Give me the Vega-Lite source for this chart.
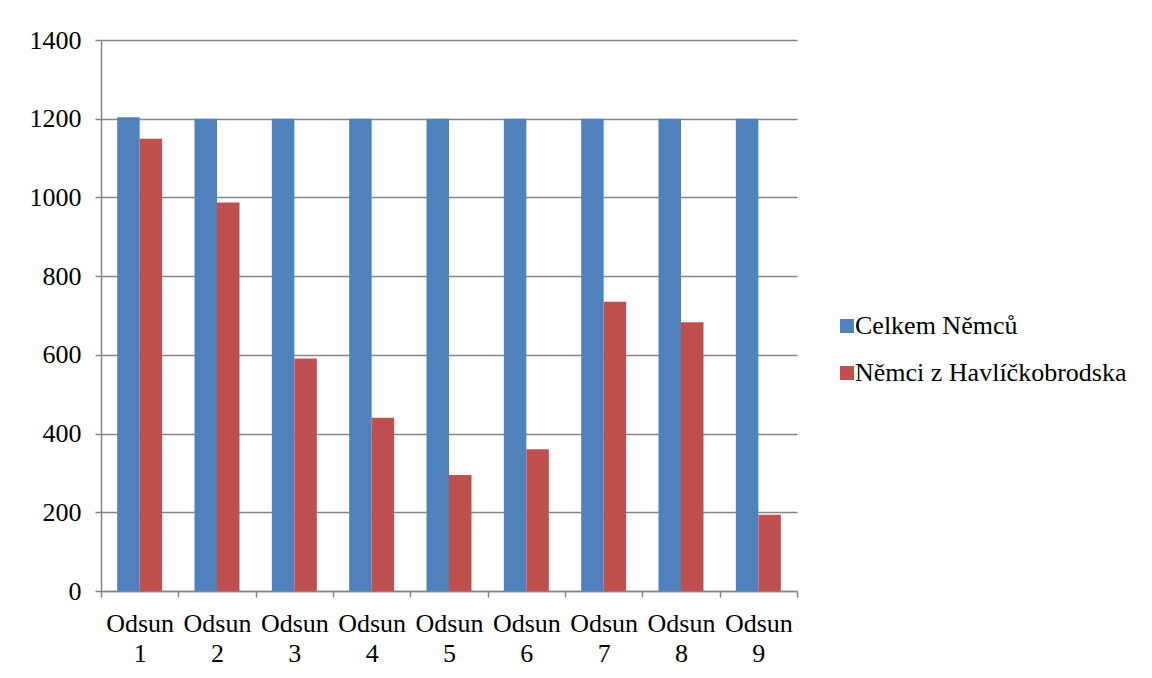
{
  "$schema": "https://vega.github.io/schema/vega-lite/v6.json",
  "width": 696,
  "height": 551,
  "autosize": "none",
  "padding": {"left": 101, "top": 40, "right": 355, "bottom": 87},
  "background": "white",
  "config": {
    "view": {"stroke": null},
    "font": "Liberation Serif",
    "axis": {
      "labelFont": "Liberation Serif",
      "labelFontSize": 26,
      "labelColor": "black",
      "domainColor": "#868686",
      "tickColor": "#868686",
      "gridColor": "#868686",
      "domainWidth": 1.5,
      "tickWidth": 1.5,
      "gridWidth": 1.5,
      "tickSize": 6,
      "title": null
    },
    "legend": {
      "labelFont": "Liberation Serif",
      "labelFontSize": 26,
      "labelColor": "black"
    }
  },
  "data": {
    "values": [
      {"odsun": "Odsun 1", "serie": "Celkem Němců", "pocet": 1204},
      {"odsun": "Odsun 1", "serie": "Němci z Havlíčkobrodska", "pocet": 1149},
      {"odsun": "Odsun 2", "serie": "Celkem Němců", "pocet": 1200},
      {"odsun": "Odsun 2", "serie": "Němci z Havlíčkobrodska", "pocet": 987},
      {"odsun": "Odsun 3", "serie": "Celkem Němců", "pocet": 1200},
      {"odsun": "Odsun 3", "serie": "Němci z Havlíčkobrodska", "pocet": 591},
      {"odsun": "Odsun 4", "serie": "Celkem Němců", "pocet": 1200},
      {"odsun": "Odsun 4", "serie": "Němci z Havlíčkobrodska", "pocet": 440},
      {"odsun": "Odsun 5", "serie": "Celkem Němců", "pocet": 1200},
      {"odsun": "Odsun 5", "serie": "Němci z Havlíčkobrodska", "pocet": 295},
      {"odsun": "Odsun 6", "serie": "Celkem Němců", "pocet": 1200},
      {"odsun": "Odsun 6", "serie": "Němci z Havlíčkobrodska", "pocet": 360},
      {"odsun": "Odsun 7", "serie": "Celkem Němců", "pocet": 1200},
      {"odsun": "Odsun 7", "serie": "Němci z Havlíčkobrodska", "pocet": 735},
      {"odsun": "Odsun 8", "serie": "Celkem Němců", "pocet": 1200},
      {"odsun": "Odsun 8", "serie": "Němci z Havlíčkobrodska", "pocet": 683},
      {"odsun": "Odsun 9", "serie": "Celkem Němců", "pocet": 1200},
      {"odsun": "Odsun 9", "serie": "Němci z Havlíčkobrodska", "pocet": 194}
    ]
  },
  "mark": {"type": "bar"},
  "encoding": {
    "x": {
      "field": "odsun",
      "type": "nominal",
      "sort": null,
      "scale": {"paddingInner": 0, "paddingOuter": 0},
      "axis": {
        "labelAngle": 0,
        "tickBand": "extent",
        "grid": false,
        "labelFont": "Liberation Serif",
        "labelFontSize": 26,
        "labelExpr": "split(datum.label, ' ')",
        "labelLineHeight": 30,
        "labelPadding": 13,
        "labelBaseline": "top"
      }
    },
    "xOffset": {
      "field": "serie",
      "type": "nominal",
      "scale": {"paddingInner": 0, "paddingOuter": 0.72}
    },
    "y": {
      "field": "pocet",
      "type": "quantitative",
      "scale": {"domain": [0, 1400], "nice": false},
      "axis": {
        "values": [0, 200, 400, 600, 800, 1000, 1200, 1400],
        "format": "d",
        "labelFont": "Liberation Serif",
        "labelFontSize": 26,
        "labelPadding": 14,
        "grid": true
      }
    },
    "color": {
      "field": "serie",
      "type": "nominal",
      "scale": {"range": ["#4F81BD", "#C0504D"]},
      "legend": {
        "title": null,
        "orient": "none",
        "legendX": 733,
        "legendY": 273,
        "symbolType": "square",
        "symbolSize": 196,
        "symbolStrokeWidth": 0,
        "labelFont": "Liberation Serif",
        "labelFontSize": 26,
        "labelLimit": 400,
        "labelOffset": -5,
        "rowPadding": 21,
        "padding": 0
      }
    }
  }
}
